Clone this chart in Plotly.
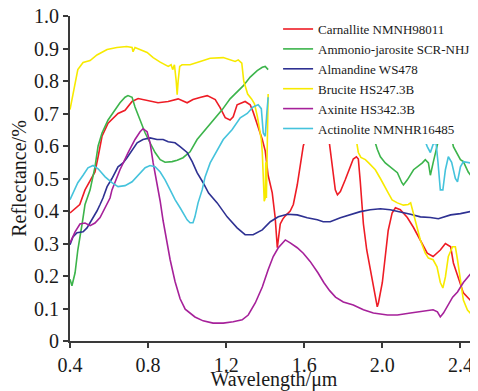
import plotly.graph_objects as go

# (wavelength µm, reflectance); None marks a gap in the data
carnallite = [(0.40,0.394),(0.45,0.42),(0.477,0.465),(0.50,0.49),(0.528,0.52),(0.544,0.567),(0.564,0.63),(0.595,0.67),
              (0.646,0.70),(0.682,0.71),(0.718,0.737),(0.749,0.746),(0.80,0.74),(0.851,0.733),(0.903,0.737),(0.954,0.745),
              (1.00,0.733),(1.03,0.743),(1.07,0.75),(1.103,0.755),(1.144,0.743),(1.169,0.718),(1.195,0.687),(1.22,0.68),
              (1.236,0.69),(1.256,0.727),(1.297,0.737),(1.323,0.727),(1.338,0.705),(1.359,0.67),(1.385,0.62),(1.40,0.585),
              (1.415,0.51),(1.436,0.456),(1.451,0.38),(1.462,0.287),(1.477,0.36),(1.49,0.375),(1.503,0.385),(1.528,0.40),
              (1.544,0.42),(1.564,0.48),(1.58,0.55),(1.595,0.60),(1.615,0.64),(1.67,0.80),(1.718,0.66),(1.733,0.59),
              (1.744,0.536),(1.759,0.465),(1.77,0.45),(1.785,0.46),(1.81,0.496),(1.836,0.536),(1.851,0.56),(1.867,0.567),
              (1.877,0.56),(1.887,0.49),(1.903,0.36),(1.92,0.28),(1.95,0.18),(1.974,0.105),(1.98,0.117),(2.00,0.18),
              (2.015,0.26),(2.03,0.34),(2.05,0.394),(2.067,0.41),(2.092,0.404),(2.128,0.38),(2.159,0.35),(2.195,0.31),
              (2.23,0.27),(2.26,0.26),(2.297,0.28),(2.323,0.30),(2.35,0.29),(2.364,0.24),(2.39,0.19),(2.415,0.148),
              (2.45,0.126),(2.49,0.136)]

ammonio_jarosite = [(0.40,0.19),(0.41,0.17),(0.426,0.21),(0.44,0.28),(0.462,0.36),(0.477,0.42),(0.503,0.465),(0.528,0.536),
                    (0.544,0.60),(0.564,0.64),(0.595,0.68),(0.631,0.71),(0.656,0.733),(0.682,0.75),(0.697,0.755),(0.718,0.75),
                    (0.733,0.72),(0.759,0.68),(0.785,0.64),(0.81,0.61),(0.836,0.58),(0.862,0.558),(0.887,0.55),(0.923,0.552),
                    (0.949,0.556),(0.979,0.564),(1.015,0.582),(1.051,0.62),(1.092,0.65),(1.133,0.68),(1.18,0.712),(1.22,0.745),
                    (1.256,0.765),(1.287,0.785),(1.323,0.812),(1.359,0.832),(1.385,0.842),(1.40,0.845),(1.415,0.835),
                    (1.60,None),
                    (1.94,0.70),(1.954,0.63),(1.974,0.59),(1.99,0.567),(2.015,0.548),(2.04,0.536),(2.077,0.518),(2.10,0.487),
                    (2.108,0.48),(2.128,0.496),(2.16,0.527),(2.205,0.548),(2.22,0.558),(2.236,0.548),(2.246,0.51),(2.26,0.548),
                    (2.28,0.598),(2.297,0.64),(2.32,0.70),(2.35,0.64),(2.364,0.598),(2.40,0.558),(2.415,0.552),(2.44,0.52),
                    (2.467,0.496),(2.49,0.478)]

almandine = [(0.40,0.296),(0.415,0.32),(0.436,0.333),(0.467,0.336),(0.487,0.348),(0.513,0.373),(0.538,0.40),(0.554,0.42),
             (0.569,0.44),(0.59,0.475),(0.615,0.50),(0.646,0.536),(0.672,0.548),(0.692,0.564),(0.718,0.589),(0.744,0.61),
             (0.774,0.62),(0.81,0.625),(0.846,0.62),(0.877,0.62),(0.903,0.613),(0.938,0.61),(0.964,0.598),(1.0,0.58),
             (1.026,0.552),(1.051,0.518),(1.082,0.487),(1.11,0.455),(1.154,0.425),(1.205,0.382),(1.256,0.348),(1.297,0.327),
             (1.338,0.327),(1.385,0.342),(1.426,0.367),(1.467,0.382),(1.513,0.39),(1.564,0.388),(1.615,0.379),(1.667,0.373),
             (1.697,0.367),(1.733,0.367),(1.785,0.379),(1.836,0.388),(1.887,0.398),(1.938,0.404),(1.99,0.407),(2.04,0.404),
             (2.092,0.398),(2.144,0.39),(2.195,0.382),(2.246,0.38),(2.287,0.376),(2.35,0.388),(2.40,0.392),(2.45,0.398),
             (2.49,0.41)]

brucite = [(0.40,0.712),(0.41,0.743),(0.426,0.80),(0.44,0.835),(0.467,0.857),(0.503,0.863),(0.538,0.88),(0.59,0.897),
           (0.64,0.903),(0.69,0.906),(0.718,0.903),(0.723,0.89),(0.733,0.903),(0.759,0.897),(0.795,0.888),(0.826,0.872),
           (0.862,0.858),(0.903,0.845),(0.918,0.85),(0.926,0.835),(0.935,0.85),(0.944,0.80),(0.949,0.758),(0.954,0.80),
           (0.962,0.845),(0.974,0.85),(1.015,0.85),(1.067,0.86),(1.118,0.87),(1.185,0.872),(1.22,0.865),(1.246,0.86),
           (1.262,0.865),(1.28,0.855),(1.29,0.80),(1.31,0.76),(1.33,0.745),(1.345,0.73),(1.36,0.69),(1.37,0.655),
           (1.38,0.62),(1.385,0.58),(1.39,0.47),(1.395,0.43),(1.40,0.44),(1.403,0.55),(1.406,0.44),(1.41,0.60),(1.415,0.76),
           (1.60,None),
           (1.85,0.68),(1.862,0.63),(1.877,0.58),(1.89,0.565),(1.913,0.558),(1.93,0.548),(1.964,0.527),(1.99,0.50),
           (2.015,0.475),(2.03,0.456),(2.05,0.434),(2.077,0.425),(2.108,0.418),(2.133,0.42),(2.145,0.425),(2.154,0.404),
           (2.17,0.363),(2.195,0.31),(2.22,0.27),(2.236,0.255),(2.26,0.25),(2.28,0.228),(2.297,0.18),(2.31,0.163),
           (2.323,0.197),(2.338,0.26),(2.36,0.29),(2.374,0.29),(2.385,0.25),(2.40,0.18),(2.415,0.126),(2.436,0.095),
           (2.46,0.08),(2.49,0.086)]

axinite = [(0.40,0.302),(0.426,0.336),(0.451,0.36),(0.477,0.363),(0.503,0.355),(0.528,0.363),(0.554,0.38),(0.58,0.41),
           (0.605,0.44),(0.615,0.465),(0.656,0.527),(0.697,0.579),(0.733,0.62),(0.759,0.644),(0.774,0.653),(0.795,0.644),
           (0.81,0.61),(0.826,0.548),(0.846,0.487),(0.862,0.43),(0.877,0.37),(0.897,0.30),(0.913,0.25),(0.938,0.183),
           (0.964,0.13),(0.99,0.098),(1.015,0.086),(1.04,0.074),(1.082,0.062),(1.133,0.055),(1.185,0.055),(1.236,0.059),
           (1.282,0.065),(1.313,0.08),(1.349,0.117),(1.385,0.166),(1.415,0.219),(1.441,0.26),(1.467,0.287),(1.487,0.302),
           (1.503,0.311),(1.528,0.302),(1.564,0.287),(1.595,0.27),(1.63,0.245),(1.67,0.21),(1.70,0.18),(1.73,0.155),
           (1.76,0.135),(1.80,0.12),(1.851,0.111),(1.903,0.096),(1.954,0.086),(2.026,0.08),(2.077,0.08),(2.144,0.086),
           (2.21,0.092),(2.26,0.096),(2.282,0.09),(2.297,0.074),(2.313,0.086),(2.333,0.108),(2.36,0.135),(2.385,0.151),
           (2.415,0.18),(2.45,0.205),(2.49,0.225)]

actinolite = [(0.40,0.435),(0.415,0.456),(0.44,0.487),(0.467,0.51),(0.492,0.533),(0.518,0.54),(0.544,0.53),(0.58,0.505),
              (0.615,0.487),(0.646,0.475),(0.682,0.478),(0.718,0.49),(0.749,0.51),(0.785,0.533),(0.81,0.54),(0.836,0.536),
              (0.862,0.52),(0.887,0.496),(0.913,0.465),(0.938,0.435),(0.964,0.41),(0.979,0.394),(1.0,0.373),(1.015,0.364),
              (1.03,0.364),(1.04,0.382),(1.056,0.425),(1.077,0.465),(1.092,0.505),(1.118,0.548),(1.154,0.589),(1.185,0.62),
              (1.23,0.65),(1.272,0.687),(1.308,0.70),(1.338,0.72),(1.364,0.727),(1.38,0.715),(1.39,0.64),(1.40,0.63),
              (1.408,0.70),(1.415,0.75),
              (1.80,None),
              (2.20,0.68),(2.21,0.63),(2.23,0.598),(2.246,0.58),(2.26,0.605),(2.275,0.61),(2.285,0.55),(2.297,0.465),
              (2.31,0.465),(2.323,0.527),(2.338,0.567),(2.355,0.55),(2.374,0.50),(2.385,0.49),(2.40,0.536),(2.415,0.552),
              (2.45,0.548),(2.49,0.558)]

series_names = ["Carnallite NMNH98011", "Ammonio-jarosite SCR-NHJ", "Almandine WS478",
                "Brucite HS247.3B", "Axinite HS342.3B", "Actinolite NMNHR16485"]
series_data = [carnallite, ammonio_jarosite, almandine, brucite, axinite, actinolite]
series_colors = ["#ee1c25", "#3cb44b", "#2e3192", "#f7ea00", "#a6219a", "#45c3dc"]

x_ticks = [0.4, 0.8, 1.2, 1.6, 2.0, 2.4]
x_tick_labels = ["0.4", "0.8", "1.2", "1.6", "2.0", "2.4"]
y_ticks = [0, 0.1, 0.2, 0.3, 0.4, 0.5, 0.6, 0.7, 0.8, 0.9, 1.0]
y_tick_labels = ["0", "0.1", "0.2", "0.3", "0.4", "0.5", "0.6", "0.7", "0.8", "0.9", "1.0"]

SERIF = "Liberation Serif, Tinos, Times New Roman, Times, DejaVu Serif, serif"

fig = go.Figure()
for name, pts, col in zip(series_names, series_data, series_colors):
    fig.add_trace(go.Scatter(
        x=[p[0] for p in pts], y=[p[1] for p in pts], mode="lines", name=name,
        line=dict(color=col, width=1.6), connectgaps=False))

axis_common = dict(showgrid=False, zeroline=False, showline=True, linecolor="#3a3a3a", linewidth=2,
                   ticks="outside", ticklen=5, tickwidth=1.5, tickcolor="#3a3a3a", automargin=False,
                   ticklabeloverflow="allow",
                   tickfont=dict(family=SERIF, size=20, color="#1a1a1a"))

# the page body keeps the browser's 8 px margin, so the figure is sized to fill the rest of the window
fig.update_layout(
    template="none",
    width=470, height=383,
    margin=dict(l=62, r=0, t=8, b=50, autoexpand=False),
    paper_bgcolor="white", plot_bgcolor="white",
    font=dict(family=SERIF, size=20, color="#1a1a1a"),
    showlegend=True,
    legend=dict(x=0.51, y=1.006, xanchor="left", yanchor="top", bgcolor="white",
                borderwidth=0, font=dict(family=SERIF, size=13, color="#1a1a1a")),
    xaxis=dict(range=[0.4, 2.49], tickvals=x_ticks, ticktext=x_tick_labels,
               title=dict(text="Wavelength/μm", standoff=8,
                          font=dict(family=SERIF, size=20)), **axis_common),
    yaxis=dict(range=[0, 1.0], tickvals=y_ticks, ticktext=y_tick_labels,
               title=dict(text="Reflectance/%", standoff=3,
                          font=dict(family=SERIF, size=20)), **axis_common),
)

fig.write_html("out.html")
